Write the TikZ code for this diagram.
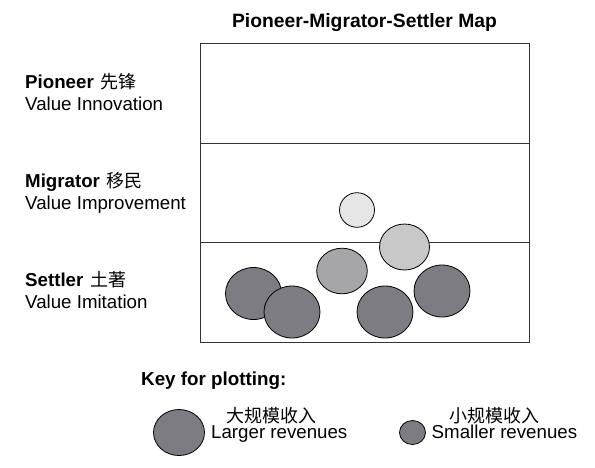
\documentclass[tikz,border=0pt]{standalone}
\usepackage{fontspec}
\setmainfont{Liberation Sans}
\newfontfamily\cjk{Noto Sans CJK SC}
\definecolor{cLight}{HTML}{E6E6E6}
\definecolor{cPale}{HTML}{C8C8C8}
\definecolor{cMid}{HTML}{A6A6A9}
\definecolor{cDark}{HTML}{7D7C82}
\definecolor{cLine}{HTML}{333333}
\newcommand{\zh}[1]{{\cjk\fontsize{18}{20}\selectfont #1}}
\begin{document}
\begin{tikzpicture}[x=1pt,y=-1pt,
  txt/.style={inner sep=0pt,anchor=base west,font=\fontsize{18.7}{20}\selectfont},
  ttl/.style={inner sep=0pt,anchor=base,font=\fontsize{19.3}{21}\selectfont\bfseries},
  blob/.style={draw=black,line width=0.8pt}]
\useasboundingbox (0,0) rectangle (595,467);
% frame
\draw[cLine,line width=0.9pt] (200,43) rectangle (529,342);
\draw[cLine,line width=0.9pt] (200,143) -- (529,143);
\draw[cLine,line width=0.9pt] (200,242) -- (529,242);
% title
\node[ttl] (title) at (364.5,27) {Pioneer-Migrator-Settler Map};
% left labels
\node[txt] (pio) at (25,88) {\textbf{Pioneer}\hspace{7pt}\zh{先锋}};
\node[txt] (pioV) at (25,110) {Value Innovation};
\node[txt] (mig) at (25,187) {\textbf{Migrator}\hspace{7pt}\zh{移民}};
\node[txt] (migV) at (25,209) {Value Improvement};
\node[txt] (set) at (25,286) {\textbf{Settler}\hspace{7pt}\zh{土著}};
\node[txt] (setV) at (25,308) {Value Imitation};
% circles
\filldraw[blob,fill=cPale] (404.5,247) ellipse [x radius=25,y radius=23];
\filldraw[blob,fill=cLight] (357,210) ellipse [x radius=17.5,y radius=17.3];
\filldraw[blob,fill=cMid] (342,271) ellipse [x radius=25.3,y radius=22.8];
\filldraw[blob,fill=cDark] (253.5,293.5) ellipse [x radius=28,y radius=26];
\filldraw[blob,fill=cDark] (292,312) ellipse [x radius=28,y radius=26];
\filldraw[blob,fill=cDark] (385,312) ellipse [x radius=28,y radius=26];
\filldraw[blob,fill=cDark] (442,291) ellipse [x radius=28,y radius=26];
% key
\node[txt,font=\fontsize{18.8}{20}\selectfont\bfseries] (key) at (141,385) {Key for plotting:};
\filldraw[blob,fill=cDark] (179,432.5) ellipse [x radius=25.5,y radius=23];
\filldraw[blob,fill=cDark] (412.5,432.5) ellipse [x radius=13,y radius=12];
\node[txt] (bigzh) at (226,422) {\zh{大规模收入}};
\node[txt] (big) at (211,438) {Larger revenues};
\node[txt] (smallzh) at (449,422) {\zh{小规模收入}};
\node[txt] (small) at (431.5,438) {Smaller revenues};
\end{tikzpicture}
\end{document}
